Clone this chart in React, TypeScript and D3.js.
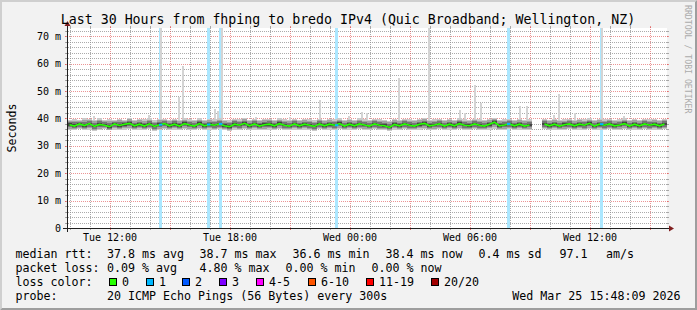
import React from "react";
import * as d3 from "d3";

const WIDTH = 697;
const HEIGHT = 310;
const PLOT_LEFT = 67;
const PLOT_RIGHT = 667;
const PLOT_TOP = 28;
const PLOT_BOTTOM = 228;
const FONT = "'DejaVu Sans Mono', monospace";

const startTime = new Date(Date.UTC(2026, 2, 24, 9, 51));
const endTime = new Date(Date.UTC(2026, 2, 25, 15, 51));
const sampleMinutes = 15;

// median RTT (ms) per 15-minute sample
const medianRtt: (number | null)[] = [
  37.7, 37.2, 38.0, 37.4, 38.1, 37.1, 37.8, 37.5, 37.0, 38.0,
  37.4, 37.9, 38.2, 37.3, 37.9, 37.2, 38.0, 37.1, 37.7, 38.1,
  37.3, 37.9, 37.2, 38.1, 37.6, 37.2, 38.1, 37.3, 37.8, 37.5,
  38.0, 37.3, 37.0, 37.9, 37.5, 38.2, 37.3, 38.0, 37.2, 37.7,
  37.9, 37.3, 38.1, 37.5, 37.2, 38.0, 37.3, 37.9, 37.5, 37.1,
  38.0, 37.3, 37.9, 37.5, 38.1, 37.2, 37.9, 37.3, 38.0, 37.6,
  37.2, 38.0, 37.5, 37.3, 36.7, 37.8, 37.3, 38.0, 37.5, 37.2,
  37.9, 38.2, 37.3, 37.6, 38.0, 37.2, 37.9, 37.3, 38.1, 37.5,
  37.3, 38.0, 37.5, 37.2, 37.9, 38.6, 37.3, 37.6, 38.0, 37.3,
  37.9, 37.2, 37.6, null, null, 38.0, 37.3, 37.9, 37.2, 37.7,
  38.0, 37.3, 37.9, 37.5, 38.2, 37.2, 37.9, 37.5, 38.0, 37.3,
  37.6, 38.1, 37.2, 37.9, 37.3, 38.0, 37.5, 37.9, 37.3, 38.0,
];

// lowest ping of each sample (ms)
const minRtt: (number | null)[] = [
  35.8, 35.6, 36.0, 35.7, 35.9, 35.5, 35.8, 36.0, 35.6, 35.9,
  35.7, 35.8, 36.1, 35.6, 35.9, 35.7, 36.0, 35.5, 35.8, 36.0,
  35.6, 35.9, 35.7, 36.0, 35.8, 35.6, 36.1, 35.7, 35.9, 35.8,
  36.0, 35.7, 35.5, 35.9, 35.8, 36.1, 35.6, 35.9, 35.7, 35.8,
  35.9, 35.6, 36.0, 35.8, 35.6, 35.9, 35.7, 35.9, 35.8, 35.5,
  36.0, 35.7, 35.9, 35.8, 36.1, 35.6, 35.9, 35.7, 36.0, 35.8,
  35.6, 36.0, 35.8, 35.7, 35.3, 35.9, 35.7, 36.0, 35.8, 35.6,
  35.9, 36.1, 35.7, 35.8, 36.0, 35.6, 35.9, 35.7, 36.1, 35.8,
  35.7, 36.0, 35.8, 35.6, 35.9, 36.3, 35.7, 35.8, 36.0, 35.7,
  35.9, 35.6, 35.8, null, null, 36.0, 35.7, 35.9, 35.6, 35.8,
  36.0, 35.7, 35.9, 35.8, 36.1, 35.6, 35.9, 35.8, 36.0, 35.7,
  35.8, 36.1, 35.6, 35.9, 35.7, 36.0, 35.8, 35.9, 35.7, 36.0,
];

// upper edge of the smoke of each sample (ms)
const maxRtt: (number | null)[] = [
  39.6, 39.9, 39.4, 40.1, 39.7, 39.5, 40.0, 39.6, 39.8, 39.5,
  39.9, 39.6, 40.2, 39.5, 39.8, 39.7, 40.0, 39.4, 39.9, 39.7,
  39.5, 39.9, 39.6, 40.1, 39.7, 39.5, 40.0, 39.6, 39.8, 39.7,
  40.0, 39.6, 39.4, 39.9, 39.7, 40.2, 39.5, 39.9, 39.6, 39.8,
  39.9, 39.5, 40.0, 39.7, 39.5, 39.9, 39.6, 39.8, 39.7, 39.4,
  39.9, 39.6, 39.8, 39.7, 40.1, 39.5, 39.8, 39.6, 40.0, 39.7,
  39.5, 39.9, 39.7, 39.6, 39.2, 39.8, 39.6, 39.9, 39.7, 39.5,
  39.8, 40.1, 39.6, 39.7, 39.9, 39.5, 39.8, 39.6, 40.0, 39.7,
  39.6, 39.9, 39.7, 39.5, 39.8, 40.3, 39.6, 39.7, 39.9, 39.6,
  39.8, 39.5, 39.7, null, null, 39.9, 39.6, 39.8, 39.5, 39.7,
  39.9, 39.6, 39.8, 39.7, 40.0, 39.5, 39.8, 39.7, 39.9, 39.6,
  39.7, 40.0, 39.5, 39.8, 39.6, 39.9, 39.7, 39.8, 39.6, 39.9,
];

// isolated slow pings
const spikeTimes = [
  "2026-03-24T11:09Z", "2026-03-24T13:54Z", "2026-03-24T14:30Z", "2026-03-24T15:24Z",
  "2026-03-24T15:36Z", "2026-03-24T17:12Z", "2026-03-24T17:21Z", "2026-03-24T17:33Z",
  "2026-03-24T19:15Z", "2026-03-24T20:57Z", "2026-03-24T22:27Z", "2026-03-24T23:54Z",
  "2026-03-25T00:33Z", "2026-03-25T00:48Z", "2026-03-25T02:24Z", "2026-03-25T03:54Z",
  "2026-03-25T05:27Z", "2026-03-25T05:42Z", "2026-03-25T06:12Z", "2026-03-25T06:30Z",
  "2026-03-25T08:27Z", "2026-03-25T08:48Z", "2026-03-25T10:09Z", "2026-03-25T10:24Z",
  "2026-03-25T11:12Z", "2026-03-25T12:33Z", "2026-03-25T13:39Z",
];
const spikeRtt = [
  40.9, 41.2, 80, 47.7, 59.2, 43.4, 42.8, 80, 40.6, 40.5, 46.7, 41.0, 42.4, 42.0,
  54.6, 80, 43.0, 42.0, 52.2, 45.6, 44.5, 44.5, 41.2, 48.9, 42.0, 80, 40.9,
];

// samples with packet loss
const lossTimes = [
  "2026-03-24T14:27Z", "2026-03-24T16:51Z", "2026-03-24T17:27Z",
  "2026-03-24T23:15Z", "2026-03-25T07:51Z", "2026-03-25T12:30Z",
];
const lossPings = [1, 1, 1, 1, 1, 1];

const yTickValues = [0, 10, 20, 30, 40, 50, 60, 70];
const lossLegendLabels = ["0", "1", "2", "3", "4-5", "6-10", "11-19", "20/20"];
const lossLegendColors = ["#26ff00", "#00b8ff", "#0059ff", "#7e00ff", "#ff00ff", "#ff5500", "#ff0000", "#a10000"];
const lossBarColors = ["#c9ffbf", "#abe7ff"];

const rttStats = { avg: "37.8", max: "38.7", min: "36.6", now: "38.4", sd: "0.4", ams: "97.1" };
const lossStats = { avg: "0.09", max: "4.80", min: "0.00", now: "0.00" };

const smokeLayers = [
  { f: 1.0, color: "#cacaca" },
  { f: 0.75, color: "#a2a2a2" },
  { f: 0.5, color: "#767676" },
  { f: 0.25, color: "#444444" },
];

export default function App() {
  const x = d3.scaleUtc().domain([startTime, endTime]).range([PLOT_LEFT, PLOT_RIGHT]);
  const y = d3.scaleLinear().domain([0, 73]).range([PLOT_BOTTOM, PLOT_TOP]);
  const stepMs = sampleMinutes * 60000;
  const samples = medianRtt.map((m, i) => {
    const t0 = new Date(startTime.getTime() + i * stepMs);
    const t1 = new Date(t0.getTime() + stepMs);
    return { m, lo: minRtt[i], hi: maxRtt[i], x0: x(t0), x1: x(t1) };
  });

  const minorY = d3.range(0, 73, 2).filter((v) => v % 10 !== 0);
  const majorY = yTickValues;
  const hours = x.ticks(d3.utcHour.every(1)!);
  const minorX = hours.filter((h) => h.getUTCHours() % 3 !== 0);
  const majorX = hours.filter((h) => h.getUTCHours() % 3 === 0);
  const labelX = hours.filter((h) => h.getUTCHours() % 6 === 0);
  const fmt = d3.utcFormat("%a %H:%M");
  const cy = (v: number) => Math.round(y(v)) + 0.5;
  const cx = (t: Date) => Math.round(x(t)) + 0.5;

  const medianLine = d3
    .line<(typeof samples)[number]>()
    .defined((d) => d.m != null)
    .x((d) => (d.x0 + d.x1) / 2)
    .y((d) => y(d.m as number));

  const medianAt = (t: Date) => {
    const i = Math.floor((t.getTime() - startTime.getTime()) / stepMs);
    return medianRtt[i] ?? 37.6;
  };

  const spikeW = x(new Date(startTime.getTime() + 5 * 60000)) - x(startTime);
  const lossW = 2 * spikeW;

  const gridColor = "rgba(143,143,143,0.75)";
  const mgridColor = "rgba(222,79,79,0.6)";

  const legendY = [258, 272, 286, 300];
  const boxX = [109, 146, 182, 219, 256, 308, 366, 431];

  return (
    <svg width={WIDTH} height={HEIGHT} style={{ display: "block", position: "absolute", left: 0, top: 0 }} fontFamily={FONT}>
      <rect x={0} y={0} width={WIDTH} height={HEIGHT} fill="#f2f2f2" />
      <polygon points={`0,${HEIGHT} 2,${HEIGHT - 2} 2,2 ${WIDTH - 2},2 ${WIDTH},0 0,0`} fill="#cfcfcf" />
      <polygon points={`2,${HEIGHT - 2} ${WIDTH - 2},${HEIGHT - 2} ${WIDTH - 2},2 ${WIDTH},0 ${WIDTH},${HEIGHT} 0,${HEIGHT}`} fill="#9e9e9e" />
      <rect x={PLOT_LEFT} y={PLOT_TOP} width={PLOT_RIGHT - PLOT_LEFT} height={PLOT_BOTTOM - PLOT_TOP} fill="#ffffff" />

      {/* grid */}
      <g shapeRendering="crispEdges">
        {minorY.map((v) => (
          <g key={"my" + v}>
            <line x1={PLOT_LEFT - 2} x2={PLOT_LEFT} y1={cy(v)} y2={cy(v)} stroke={gridColor} />
            <line x1={PLOT_RIGHT} x2={PLOT_RIGHT + 2} y1={cy(v)} y2={cy(v)} stroke={gridColor} />
            <line x1={PLOT_LEFT - 1} x2={PLOT_RIGHT + 1} y1={cy(v)} y2={cy(v)} stroke={gridColor} strokeDasharray="1,1" />
          </g>
        ))}
        {minorX.map((t) => (
          <g key={"mx" + t.getTime()}>
            <line x1={cx(t)} x2={cx(t)} y1={PLOT_BOTTOM} y2={PLOT_BOTTOM + 2} stroke={gridColor} />
            <line x1={cx(t)} x2={cx(t)} y1={PLOT_TOP - 2} y2={PLOT_TOP} stroke={gridColor} />
            <line x1={cx(t)} x2={cx(t)} y1={PLOT_BOTTOM + 1} y2={PLOT_TOP - 1} stroke={gridColor} strokeDasharray="1,1" />
          </g>
        ))}
        {majorY.map((v) => (
          <g key={"My" + v}>
            <line x1={PLOT_LEFT - 2} x2={PLOT_LEFT} y1={cy(v)} y2={cy(v)} stroke={mgridColor} />
            <line x1={PLOT_RIGHT} x2={PLOT_RIGHT + 2} y1={cy(v)} y2={cy(v)} stroke={mgridColor} />
            <line x1={PLOT_LEFT - 2} x2={PLOT_RIGHT + 2} y1={cy(v)} y2={cy(v)} stroke={mgridColor} strokeDasharray="1,1" />
          </g>
        ))}
        {majorX.map((t) => (
          <g key={"Mx" + t.getTime()}>
            <line x1={cx(t)} x2={cx(t)} y1={PLOT_BOTTOM} y2={PLOT_BOTTOM + 2} stroke={mgridColor} />
            <line x1={cx(t)} x2={cx(t)} y1={PLOT_TOP - 2} y2={PLOT_TOP} stroke={mgridColor} />
            <line x1={cx(t)} x2={cx(t)} y1={PLOT_BOTTOM + 2} y2={PLOT_TOP - 2} stroke={mgridColor} strokeDasharray="1,1" />
          </g>
        ))}
      </g>

      {/* loss bars */}
      <g shapeRendering="crispEdges">
        {lossTimes.map((s, i) => (
          <rect key={"lb" + i} x={x(new Date(s))} y={PLOT_TOP} width={lossW} height={PLOT_BOTTOM - PLOT_TOP} fill={lossBarColors[Math.min(lossPings[i], 1)]} />
        ))}
      </g>

      {/* spikes */}
      <g shapeRendering="crispEdges">
        {spikeTimes.map((s, i) => {
          const top = Math.max(y(spikeRtt[i]), PLOT_TOP);
          const base = y(39.5);
          return <rect key={"sp" + i} x={x(new Date(s))} y={top} width={spikeW + 0.4} height={base - top} fill="#d4d4d4" />;
        })}
      </g>

      {/* smoke */}
      <g shapeRendering="crispEdges">
        {smokeLayers.map((L, li) => (
          <g key={"sl" + li}>
            {samples.map((d, i) => {
              if (d.m == null || d.lo == null || d.hi == null) return null;
              const lo = d.m - L.f * (d.m - d.lo);
              const hi = d.m + L.f * (d.hi - d.m);
              return <rect key={i} x={d.x0} y={y(hi)} width={d.x1 - d.x0} height={y(lo) - y(hi)} fill={L.color} />;
            })}
          </g>
        ))}
      </g>

      {/* median */}
      <path d={medianLine(samples) || ""} fill="none" stroke={lossLegendColors[0]} strokeWidth={1.6} />
      {lossTimes.map((s, i) => {
        const t = new Date(s);
        const m = medianAt(t);
        return <rect key={"lm" + i} x={x(t)} y={y(m) - 1} width={lossW} height={2} fill={lossLegendColors[lossPings[i]]} />;
      })}

      {/* axes */}
      <g shapeRendering="crispEdges">
        <line x1={PLOT_LEFT - 4} x2={PLOT_RIGHT + 4} y1={PLOT_BOTTOM + 0.5} y2={PLOT_BOTTOM + 0.5} stroke="#1f1f1f" />
        <line x1={PLOT_LEFT + 0.5} x2={PLOT_LEFT + 0.5} y1={PLOT_BOTTOM + 4} y2={PLOT_TOP - 4} stroke="#1f1f1f" />
      </g>
      <polygon points={`${PLOT_RIGHT + 2},${PLOT_BOTTOM - 2.5} ${PLOT_RIGHT + 2},${PLOT_BOTTOM + 3.5} ${PLOT_RIGHT + 7},${PLOT_BOTTOM + 0.5}`} fill="#801f1f" />
      <polygon points={`${PLOT_LEFT - 2.5},${PLOT_TOP - 2} ${PLOT_LEFT + 3.5},${PLOT_TOP - 2} ${PLOT_LEFT + 0.5},${PLOT_TOP - 7}`} fill="#801f1f" />

      {/* axis labels */}
      {yTickValues.map((v) => (
        <text key={"yl" + v} x={61} y={y(v) + 3.6} textAnchor="end" fontSize={10} fill="#000">
          {v === 0 ? "0" : `${v} m`}
        </text>
      ))}
      {labelX.map((t) => (
        <text key={"xl" + t.getTime()} x={x(t)} y={241} textAnchor="middle" fontSize={10} fill="#000">
          {fmt(t)}
        </text>
      ))}
      <text transform={`translate(15.5,128) rotate(-90)`} textAnchor="middle" fontSize={11.65} fill="#000">
        Seconds
      </text>
      <text x={348} y={24} textAnchor="middle" fontSize={13.25} fill="#000">
        Last 30 Hours from fhping to bredo IPv4 (Quic Broadband; Wellington, NZ)
      </text>
      <text transform={`translate(685,5) rotate(90)`} fontSize={8.2} fill="#ababab">
        RRDTOOL / TOBI OETIKER
      </text>

      {/* legend */}
      <g fontSize={11.65} fill="#000" style={{ whiteSpace: "pre" }}>
        <text x={15.5} y={legendY[0]}>median rtt:</text>
        <text x={107} y={legendY[0]}>{`${rttStats.avg} ms avg`}</text>
        <text x={199.5} y={legendY[0]}>{`${rttStats.max} ms max`}</text>
        <text x={292.5} y={legendY[0]}>{`${rttStats.min} ms min`}</text>
        <text x={385.5} y={legendY[0]}>{`${rttStats.now} ms now`}</text>
        <text x={478.5} y={legendY[0]}>{`${rttStats.sd} ms sd`}</text>
        <text x={559.5} y={legendY[0]}>{rttStats.ams}</text>
        <text x={606} y={legendY[0]}>am/s</text>

        <text x={15.5} y={legendY[1]}>packet loss:</text>
        <text x={107} y={legendY[1]}>{`${lossStats.avg} % avg`}</text>
        <text x={199.5} y={legendY[1]}>{`${lossStats.max} % max`}</text>
        <text x={285.5} y={legendY[1]}>{`${lossStats.min} % min`}</text>
        <text x={371.5} y={legendY[1]}>{`${lossStats.now} % now`}</text>

        <text x={15.5} y={legendY[2]}>loss color:</text>
        {lossLegendLabels.map((l, i) => (
          <g key={"lg" + i}>
            <rect x={boxX[i] + 0.5} y={278.5} width={7} height={7} fill={lossLegendColors[i]} stroke="#000" strokeWidth={1} shapeRendering="crispEdges" />
            <text x={boxX[i] + 13} y={legendY[2]}>{l}</text>
          </g>
        ))}

        <text x={15.5} y={legendY[3]}>probe:</text>
        <text x={107} y={legendY[3]}>20 ICMP Echo Pings (56 Bytes) every 300s</text>
        <text x={680.5} y={legendY[3]} textAnchor="end">Wed Mar 25 15:48:09 2026</text>
      </g>
    </svg>
  );
}
